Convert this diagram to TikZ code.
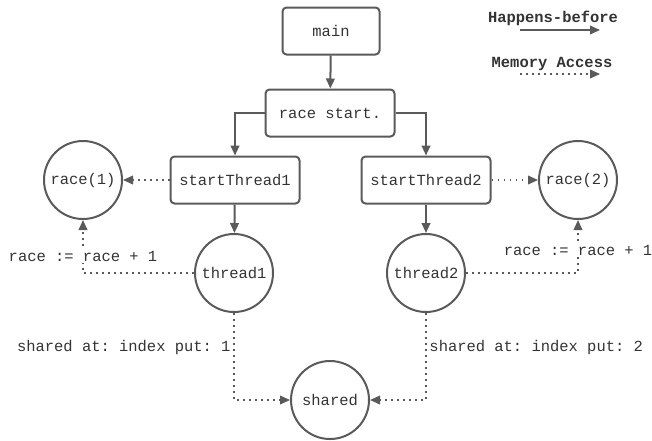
\documentclass[tikz,border=0pt]{standalone}
\usepackage{fontspec}
\setmonofont{Liberation Mono}
\usetikzlibrary{arrows.meta,positioning}

\definecolor{edge}{HTML}{5A5A5A}
\definecolor{ink}{HTML}{333333}

\begin{document}
\begin{tikzpicture}[x=0.75pt,y=-0.75pt,>={Triangle[length=7.5pt,width=6.5pt]},
  font=\ttfamily\fontsize{11.6}{13}\selectfont,text=ink,
  box/.style={draw=edge,line width=1.5pt,rounded corners=3pt,minimum width=72.75pt,minimum height=35.25pt},
  wide/.style={box,minimum width=96.75pt},
  proc/.style={draw=edge,line width=1.5pt,circle,minimum size=58.5pt,inner sep=0pt},
  hb/.style={->,draw=edge,line width=1.5pt},
  mem/.style={->,draw=edge,line width=1.2pt,dash pattern=on 1.2pt off 3.3pt},
  lbl/.style={fill=white,inner sep=1pt}]
  \useasboundingbox (0,0) rectangle (652,440);

  % control flow
  \node[box] (main) at (331,31) {main};
  \node[wide] (start) at (330,113) {race start.};
  \node[wide] (st1) at (235,180) {startThread1};
  \node[wide] (st2) at (426,180) {startThread2};
  \node[proc] (t1) at (234,273) {thread1};
  \node[proc] (t2) at (426,273) {thread2};

  % shared data
  \node[proc] (r1) at (83,180) {race(1)};
  \node[proc] (r2) at (578,180) {race(2)};
  \node[proc] (shared) at (330,400) {shared};

  \draw[hb] (main) -- (start);
  \draw[hb] (start.west) -| (st1.north);
  \draw[hb] (start.east) -| (st2.north);
  \draw[hb] (st1) -- (t1);
  \draw[hb] (st2) -- (t2);

  \draw[mem] (st1.west) -- (r1.east);
  \draw[mem] (st2.east) -- (r2.west);
  \draw[mem] (t1.west) -| (r1.south) node[pos=0.66,lbl] {race := race + 1};
  \draw[mem] (t2.east) -| (r2.south) node[pos=0.71,lbl] {race := race + 1};
  \draw[mem] (t1.south) |- (shared.west) node[pos=0.2,left,inner sep=2pt] {shared at: index put: 1};
  \draw[mem] (t2.south) |- (shared.east) node[pos=0.2,right,inner sep=2pt] {shared at: index put: 2};

  % legend
  \node[font=\ttfamily\bfseries\fontsize{11.6}{13}\selectfont] (hbkey) at (553,18) {Happens-before};
  \coordinate (hbA) at (520,30);
  \coordinate (hbB) at (600,30);
  \draw[hb,line width=1.2pt] (hbA) -- (hbB);
  \node[font=\ttfamily\bfseries\fontsize{11.6}{13}\selectfont] (memkey) at (552,64) {Memory Access};
  \coordinate (memA) at (520,74);
  \coordinate (memB) at (600,74);
  \draw[mem] (memA) -- (memB);
\end{tikzpicture}
\end{document}
